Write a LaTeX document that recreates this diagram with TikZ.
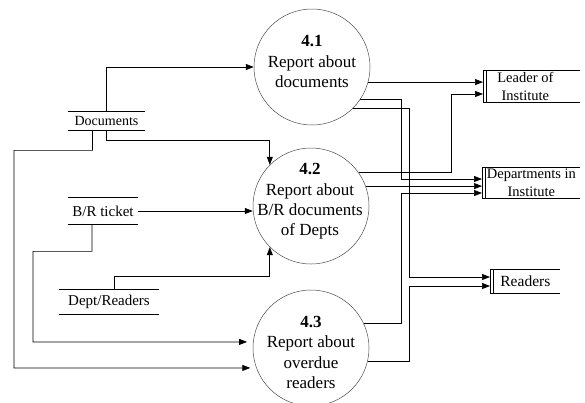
\documentclass[tikz,border=0pt]{standalone}
\usepackage{fontspec}
\setmainfont{Liberation Serif}
\usetikzlibrary{arrows.meta}

\begin{document}
\begin{tikzpicture}[x=1pt,y=-1pt,line width=.7pt,>={Triangle[length=8pt,width=6pt]},
	process/.style={circle,draw=black!70,line width=.5pt,minimum size=116pt,inner sep=0pt},
	ptext/.style={align=center,font=\fontsize{17}{20.3}\selectfont},
	store/.style={inner sep=0pt,font=\fontsize{15}{18}\selectfont},
	entity/.style={anchor=west,inner sep=0pt,align=center,font=\fontsize{14.5}{17.5}\selectfont}]
	\useasboundingbox (0,0) rectangle (585,402);
	% processes
	\node[process] (p41) at (312,67) {};
	\node[process] (p42) at (311,206) {};
	\node[process] (p43) at (311,348) {};
	\node[ptext] (t41) at (312,61.5) {\textbf{4.1}\\Report about\\documents};
	\node[ptext] (t42) at (310,201.5) {\textbf{4.2}\\Report about\\B/R documents\\of Depts};
	\node[ptext] (t43) at (311,352.5) {\textbf{4.3}\\Report about\\overdue\\readers};
	% data stores
	\node[store,minimum width=77pt,minimum height=18pt,font=\fontsize{14}{17}\selectfont] (docs) at (106.5,121) {Documents};
	\node[store,minimum width=70pt,minimum height=26pt] (ticket) at (103,211) {B/R ticket};
	\node[store,minimum width=100pt,minimum height=24pt] (deptr) at (109,302) {Dept/Readers};
	\foreach \s in {docs,ticket,deptr}
		\draw (\s.north west) -- (\s.north east) (\s.south west) -- (\s.south east);
	% external entities
	\node[entity,minimum width=84pt,minimum height=31pt] (leader) at (483,86.5) {Leader of\\Institute};
	\node[entity,minimum width=98pt,minimum height=30pt] (dept) at (482,183) {Departments in\\Institute};
	\node[entity,minimum width=70pt,minimum height=23pt,font=\fontsize{15.5}{18}\selectfont] (readers) at (490,281.5) {Readers};
	\foreach \e/\l in {leader/97,dept/98,readers/70}
		\draw (\e.north west) ++(\l,0) -- (\e.north west) -- (\e.south west) -- ++(\l,0)
			([xshift=3pt]\e.north west) -- ([xshift=3pt]\e.south west);
	% flows into the processes
	\draw[->] (docs.north) |- (p41.west);
	\draw[->] (docs.south) -- ++(0,10) -| (p42.north west);
	\draw[->,shorten >=6pt] ([xshift=-14pt]docs.south) -- ++(0,20) -| (14,368) -- (p43.200);
	\draw[->] (ticket.east) -- (ticket.east -| p42.west);
	\draw[->,shorten >=6pt] ([xshift=-11pt]ticket.south) -- ++(0,27) -| (33,342) -- (p43.174);
	\draw[->] ([xshift=5pt]deptr.north) -- ++(0,-13) -| (p42.south west);
	% flows out to the entities
	\draw[->] (p41.-15) -- (p41.-15 -| leader.west);
	\draw[->] (p41.-34) -| (401,179) -- (dept.west |- 0,179);
	\draw[->] (p41.-45) -| (409,277) -- (readers.west |- 0,277);
	\draw[->] (p42.35) -| (451,94) -- (leader.west |- 0,94);
	\draw[->] (p42.20) -- (p42.20 -| dept.west);
	\draw[->] (p43.25) -| (401,193) -- (dept.west |- 0,193);
	\draw[->] (p43.-13) -| (409,286) -- (readers.west |- 0,286);
\end{tikzpicture}
\end{document}
